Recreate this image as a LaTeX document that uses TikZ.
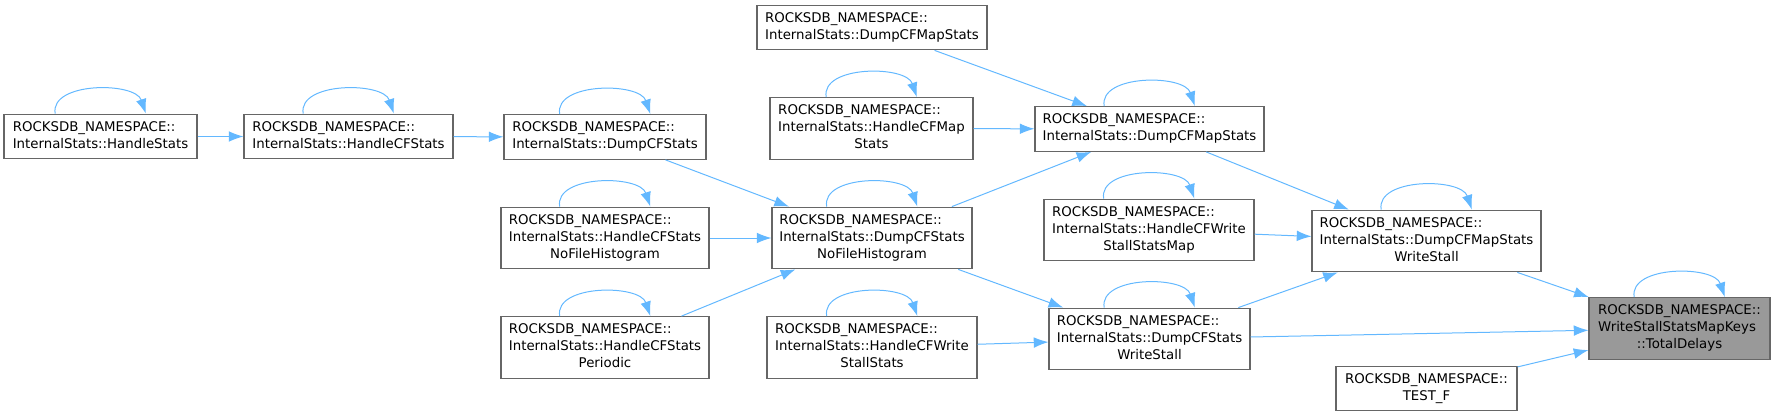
\documentclass[tikz,border=0pt]{standalone}
\usepackage{fontspec}
\setmainfont{DejaVu Sans}
\usetikzlibrary{arrows.meta}
\definecolor{edgeblue}{HTML}{63B8FF}
\definecolor{boxline}{HTML}{666666}
\definecolor{boxgray}{HTML}{999999}
\newcommand{\fnbox}[1]{\begin{tabular}{@{}l@{}}#1\end{tabular}}
\newcommand{\lastc}[1]{\multicolumn{1}{@{}c@{}}{#1}}
\begin{document}
\begin{tikzpicture}[
	x=0.75pt, y=-0.75pt,
	func/.style={ draw=boxline, line width=0.85pt, fill=white, inner xsep=4pt, inner ysep=4pt, font=\fontsize{10pt}{12.75pt}\selectfont },
	funcg/.style={ func, fill=boxgray },
	call/.style={ edgeblue, line width=0.75pt, -{Latex[length=11pt,width=8pt]} }
]
\useasboundingbox (0,0) rectangle (1776,417);

\node at (100.5,136.5) (hstats) [func,minimum width=144.75pt] {\fnbox{ROCKSDB\_NAMESPACE::\\InternalStats::HandleStats}};
\node at (348.5,136.5) (hcfstats) [func,minimum width=156.75pt] {\fnbox{ROCKSDB\_NAMESPACE::\\InternalStats::HandleCFStats}};
\node at (605,137) (dcfstats) [func,minimum width=151.5pt] {\fnbox{ROCKSDB\_NAMESPACE::\\InternalStats::DumpCFStats}};
\node at (605,238) (hcfnofile) [func,minimum width=156pt] {\fnbox{ROCKSDB\_NAMESPACE::\\InternalStats::HandleCFStats\\\lastc{NoFileHistogram}}};
\node at (605,347.5) (hcfperiodic) [func,minimum width=156pt] {\fnbox{ROCKSDB\_NAMESPACE::\\InternalStats::HandleCFStats\\\lastc{Periodic}}};
\node at (872,27.5) (dmaptop) [func,minimum width=172.5pt] {\fnbox{ROCKSDB\_NAMESPACE::\\InternalStats::DumpCFMapStats}};
\node at (871.5,128.5) (hcfmap) [func,minimum width=152.25pt] {\fnbox{ROCKSDB\_NAMESPACE::\\InternalStats::HandleCFMap\\\lastc{Stats}}};
\node at (872,238) (dcfnofile) [func,minimum width=150pt] {\fnbox{ROCKSDB\_NAMESPACE::\\InternalStats::DumpCFStats\\\lastc{NoFileHistogram}}};
\node at (872,347.5) (hcfwss) [func,minimum width=157.5pt] {\fnbox{ROCKSDB\_NAMESPACE::\\InternalStats::HandleCFWrite\\\lastc{StallStats}}};
\node at (1149.5,129) (dmap) [func,minimum width=171.75pt] {\fnbox{ROCKSDB\_NAMESPACE::\\InternalStats::DumpCFMapStats}};
\node at (1149,230) (hcfwssmap) [func,minimum width=157.5pt] {\fnbox{ROCKSDB\_NAMESPACE::\\InternalStats::HandleCFWrite\\\lastc{StallStatsMap}}};
\node at (1149.5,339) (dcfws) [func,minimum width=150.75pt] {\fnbox{ROCKSDB\_NAMESPACE::\\InternalStats::DumpCFStats\\\lastc{WriteStall}}};
\node at (1426.5,241) (dmapws) [func,minimum width=171.75pt] {\fnbox{ROCKSDB\_NAMESPACE::\\InternalStats::DumpCFMapStats\\\lastc{WriteStall}}};
\node at (1426.5,388.5) (testf) [func,minimum width=135.75pt] {\fnbox{ROCKSDB\_NAMESPACE::\\\lastc{TEST\_F}}};
\node at (1679.5,328.5) (total) [funcg,minimum width=135.75pt] {\fnbox{ROCKSDB\_NAMESPACE::\\WriteStallStatsMapKeys\\\lastc{::TotalDelays}}};

\draw[call] (hstats) -- (hcfstats);
\draw[call] (hcfstats) -- (dcfstats);
\draw[call] (dcfstats) -- (dcfnofile);
\draw[call] (hcfnofile) -- (dcfnofile);
\draw[call] (hcfperiodic) -- (dcfnofile);
\draw[call] (dmaptop) -- (dmap);
\draw[call] (hcfmap) -- (dmap);
\draw[call] (dcfnofile) -- (dmap);
\draw[call] (dcfnofile) -- (dcfws);
\draw[call] (hcfwss) -- (dcfws);
\draw[call] (dmap) -- (dmapws);
\draw[call] (hcfwssmap) -- (dmapws);
\draw[call] (dcfws) -- (dmapws);
\draw[call] (dmapws) -- (total);
\draw[call] (dcfws) -- (total);
\draw[call] (testf) -- (total);

\draw[call] ([xshift=-34pt]hstats.north) .. controls +(-4pt,24pt) and +(-8pt,24pt) .. ([xshift=34pt]hstats.north);
\draw[call] ([xshift=-34pt]hcfstats.north) .. controls +(-4pt,24pt) and +(-8pt,24pt) .. ([xshift=34pt]hcfstats.north);
\draw[call] ([xshift=-34pt]dcfstats.north) .. controls +(-4pt,24pt) and +(-8pt,24pt) .. ([xshift=34pt]dcfstats.north);
\draw[call] ([xshift=-34pt]hcfnofile.north) .. controls +(-4pt,24pt) and +(-8pt,24pt) .. ([xshift=34pt]hcfnofile.north);
\draw[call] ([xshift=-34pt]hcfperiodic.north) .. controls +(-4pt,24pt) and +(-8pt,24pt) .. ([xshift=34pt]hcfperiodic.north);
\draw[call] ([xshift=-34pt]hcfmap.north) .. controls +(-4pt,24pt) and +(-8pt,24pt) .. ([xshift=34pt]hcfmap.north);
\draw[call] ([xshift=-34pt]dcfnofile.north) .. controls +(-4pt,24pt) and +(-8pt,24pt) .. ([xshift=34pt]dcfnofile.north);
\draw[call] ([xshift=-34pt]hcfwss.north) .. controls +(-4pt,24pt) and +(-8pt,24pt) .. ([xshift=34pt]hcfwss.north);
\draw[call] ([xshift=-34pt]dmap.north) .. controls +(-4pt,24pt) and +(-8pt,24pt) .. ([xshift=34pt]dmap.north);
\draw[call] ([xshift=-34pt]hcfwssmap.north) .. controls +(-4pt,24pt) and +(-8pt,24pt) .. ([xshift=34pt]hcfwssmap.north);
\draw[call] ([xshift=-34pt]dcfws.north) .. controls +(-4pt,24pt) and +(-8pt,24pt) .. ([xshift=34pt]dcfws.north);
\draw[call] ([xshift=-34pt]dmapws.north) .. controls +(-4pt,24pt) and +(-8pt,24pt) .. ([xshift=34pt]dmapws.north);
\draw[call] ([xshift=-34pt]total.north) .. controls +(-4pt,24pt) and +(-8pt,24pt) .. ([xshift=34pt]total.north);

\end{tikzpicture}
\end{document}
